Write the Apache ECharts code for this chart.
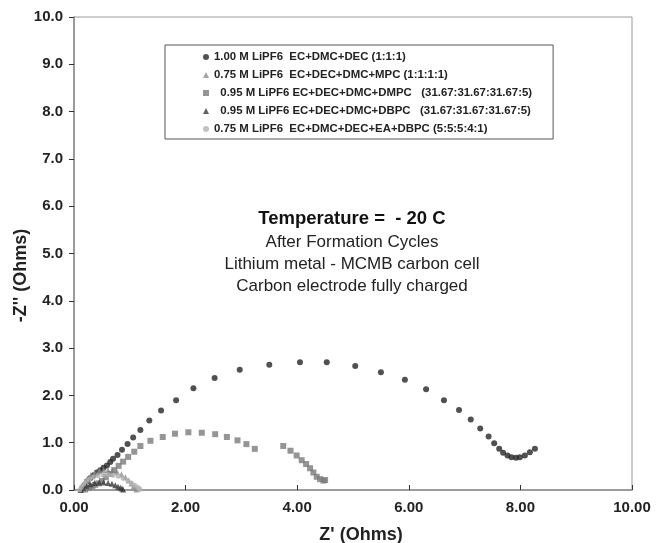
<!DOCTYPE html>
<html>
<head>
<meta charset="utf-8">
<title>Impedance -20 C</title>
<script src="https://cdn.jsdelivr.net/npm/echarts@6/dist/echarts.min.js"></script>
<style>
  html, body { margin: 0; padding: 0; background: #fff; }
  #chart { width: 657px; height: 543px; }
</style>
</head>
<body>
<div id="chart"></div>
<script>
// Nyquist plots, values (Ohms)
var seriesNames = [
  "1.00 M LiPF6  EC+DMC+DEC (1:1:1)",
  "0.75 M LiPF6  EC+DEC+DMC+MPC (1:1:1:1)",
  "  0.95 M LiPF6 EC+DEC+DMC+DMPC   (31.67:31.67:31.67:5)",
  "  0.95 M LiPF6 EC+DEC+DMC+DBPC   (31.67:31.67:31.67:5)",
  "0.75 M LiPF6  EC+DMC+DEC+EA+DBPC (5:5:5:4:1)"
];

var decRe = [0.14, 0.17, 0.23, 0.29, 0.35, 0.41, 0.47, 0.53, 0.59, 0.65, 0.70, 0.78, 0.86, 0.96, 1.06, 1.19, 1.35, 1.56, 1.83, 2.14, 2.52, 2.97, 3.50, 4.05, 4.53, 5.04, 5.50, 5.93, 6.31, 6.63, 6.90, 7.11, 7.28, 7.43, 7.53, 7.62, 7.69, 7.77, 7.84, 7.92, 7.99, 8.08, 8.17, 8.26];
var decIm = [0.01, 0.08, 0.18, 0.25, 0.31, 0.37, 0.42, 0.47, 0.52, 0.59, 0.66, 0.74, 0.85, 0.97, 1.11, 1.27, 1.47, 1.68, 1.90, 2.15, 2.37, 2.54, 2.65, 2.70, 2.70, 2.62, 2.49, 2.33, 2.13, 1.90, 1.69, 1.49, 1.30, 1.13, 0.99, 0.87, 0.79, 0.73, 0.69, 0.68, 0.69, 0.73, 0.80, 0.87];

var mpcRe = [0.12, 0.15, 0.19, 0.24, 0.30, 0.37, 0.45, 0.53, 0.61, 0.69, 0.77, 0.85, 0.92, 0.98, 1.03, 1.07, 1.10, 1.12];
var mpcIm = [0.00, 0.08, 0.16, 0.24, 0.31, 0.36, 0.40, 0.42, 0.42, 0.41, 0.38, 0.33, 0.27, 0.20, 0.14, 0.08, 0.04, 0.01];

var dmpcRe = [0.20, 0.27, 0.33, 0.38, 0.44, 0.50, 0.57, 0.65, 0.72, 0.80, 0.88, 0.97, 1.08, 1.19, 1.37, 1.59, 1.81, 2.05, 2.29, 2.53, 2.74, 2.93, 3.09, 3.24, 3.75, 3.88, 3.99, 4.08, 4.16, 4.23, 4.29, 4.35, 4.41, 4.47, 4.50];
var dmpcIm = [0.01, 0.05, 0.08, 0.11, 0.14, 0.19, 0.27, 0.34, 0.42, 0.51, 0.60, 0.70, 0.81, 0.93, 1.04, 1.12, 1.19, 1.22, 1.21, 1.18, 1.12, 1.05, 0.97, 0.87, 0.93, 0.83, 0.73, 0.63, 0.55, 0.46, 0.37, 0.28, 0.23, 0.20, 0.21];

var dbpcRe = [0.12, 0.16, 0.22, 0.29, 0.37, 0.45, 0.53, 0.61, 0.68, 0.74, 0.79, 0.83, 0.86, 0.88];
var dbpcIm = [0.00, 0.05, 0.09, 0.12, 0.15, 0.16, 0.16, 0.15, 0.13, 0.10, 0.07, 0.05, 0.03, 0.01];

var eaRe = [0.10, 0.13, 0.17, 0.22, 0.28, 0.35, 0.43, 0.52, 0.61, 0.70, 0.79, 0.88, 0.96, 1.03, 1.09, 1.14, 1.17, 1.18];
var eaIm = [0.00, 0.06, 0.12, 0.18, 0.23, 0.27, 0.30, 0.32, 0.32, 0.31, 0.29, 0.25, 0.20, 0.15, 0.10, 0.06, 0.03, 0.01];

var heading = "Temperature =  - 20 C";
var notes = [
  "After Formation Cycles",
  "Lithium metal - MCMB carbon cell",
  "Carbon electrode fully charged"
];

function pairs(xs, ys) {
  var out = [];
  for (var i = 0; i < xs.length; i++) out.push([xs[i], ys[i]]);
  return out;
}

function scatter(name, xs, ys, symbol, size, color) {
  return {
    name: name,
    type: "scatter",
    symbol: symbol,
    symbolSize: size,
    itemStyle: { color: color },
    data: pairs(xs, ys)
  };
}

var font = "Liberation Sans, Arial, Helvetica, sans-serif";
var chart = echarts.init(document.getElementById("chart"));

chart.setOption({
  animation: false,
  backgroundColor: "#fff",
  textStyle: { fontFamily: font },
  grid: {
    left: 74, right: 25, top: 17, bottom: 53,
    outerBoundsMode: "none",
    containLabel: false,
    show: true, borderColor: "#9a9a9a", borderWidth: 1
  },
  legend: {
    orient: "vertical",
    left: 165, top: 45,
    padding: [6, 21, 4, 38],
    itemGap: 6,
    itemWidth: 6, itemHeight: 6,
    borderColor: "#555", borderWidth: 1,
    textStyle: { fontSize: 11.4, fontWeight: "bold", color: "#222", lineHeight: 12, fontFamily: font },
    data: [
      { name: seriesNames[0], icon: "circle" },
      { name: seriesNames[1], icon: "triangle" },
      { name: seriesNames[2], icon: "rect" },
      { name: seriesNames[3], icon: "triangle" },
      { name: seriesNames[4], icon: "circle" }
    ]
  },
  xAxis: {
    type: "value",
    min: 0, max: 10, interval: 2,
    name: "Z' (Ohms)",
    nameLocation: "middle",
    nameGap: 36,
    nameMoveOverlap: false,
    nameTextStyle: { fontSize: 18, fontWeight: "bold", color: "#222", padding: [0, 0, 0, 16] },
    axisLine: { lineStyle: { color: "#8a8a8a", width: 1.5 } },
    axisTick: { inside: true, length: 5, lineStyle: { color: "#333" } },
    axisLabel: {
      fontSize: 15, fontWeight: "bold", color: "#222", margin: 10,
      formatter: function (v) { return v.toFixed(2); }
    },
    splitLine: { show: false }
  },
  yAxis: {
    type: "value",
    min: 0, max: 10, interval: 1,
    name: "-Z'' (Ohms)",
    nameLocation: "middle",
    nameGap: 44,
    nameMoveOverlap: false,
    nameTextStyle: { fontSize: 18, fontWeight: "bold", color: "#222", padding: [0, 44, 0, 0] },
    axisLine: { show: true, lineStyle: { color: "#8a8a8a", width: 1.5 } },
    axisTick: { show: true, length: 5, lineStyle: { color: "#333" } },
    axisLabel: {
      fontSize: 15, fontWeight: "bold", color: "#222", margin: 11,
      formatter: function (v) { return v.toFixed(1); }
    },
    splitLine: { show: false }
  },
  graphic: [
    {
      type: "text", x: 352, y: 209,
      style: { text: heading, font: "bold 18.5px " + font, fill: "#111", textAlign: "center" }
    },
    {
      type: "text", x: 352, y: 231,
      style: {
        text: notes.join("\n"), font: "17px " + font, fill: "#222",
        textAlign: "center", lineHeight: 22
      }
    }
  ],
  series: [
    scatter(seriesNames[0], decRe, decIm, "circle", 6, "#262626"),
    scatter(seriesNames[1], mpcRe, mpcIm, "triangle", 6, "#8c8c8c"),
    scatter(seriesNames[2], dmpcRe, dmpcIm, "rect", 6, "#7a7a7a"),
    scatter(seriesNames[3], dbpcRe, dbpcIm, "triangle", 6, "#3a3a3a"),
    scatter(seriesNames[4], eaRe, eaIm, "circle", 5, "#b3b3b3")
  ]
});
</script>
</body>
</html>
